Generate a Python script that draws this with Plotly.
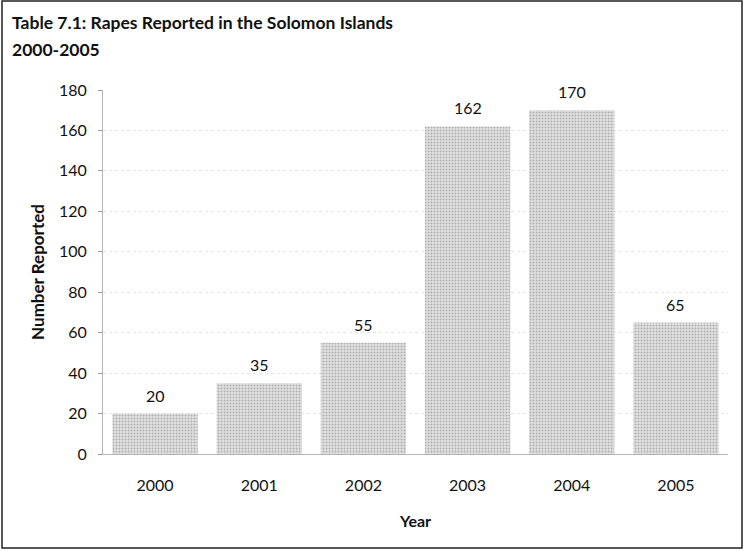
import plotly.graph_objects as go

years = ["2000", "2001", "2002", "2003", "2004", "2005"]
reported = [20, 35, 55, 162, 170, 65]
y_ticks = [0, 20, 40, 60, 80, 100, 120, 140, 160, 180]
title_lines = ["Table 7.1: Rapes Reported in the Solomon Islands", "2000-2005"]

W, H = 745, 552
L, R, T, B = 103, 17, 90, 98
pw = W - L - R
ph = H - T - B
FONT = "Lato"

xpos = list(range(len(years)))

fig = go.Figure()
fig.add_trace(go.Bar(
    x=xpos,
    y=reported,
    marker=dict(
        color="#cfcfcf",
        line=dict(width=0),
        pattern=dict(shape=".", fgcolor="#777777", bgcolor="#e2e2e2",
                     size=3, solidity=0.35),
    ),
    width=0.82,
))

# value labels above each bar
for xp, v in zip(xpos, reported):
    fig.add_annotation(
        x=xp, y=v, text=str(v), showarrow=False,
        yanchor="bottom", yshift=7,
        font=dict(family=FONT, size=16, color="#111111"),
    )

# two-line chart title, top-left
for i, line in enumerate(title_lines):
    fig.add_annotation(
        text=f"<b>{line}</b>",
        xref="paper", yref="paper",
        x=(10 - L) / pw, y=1 + (T - (22 + 28 * i)) / ph,
        xanchor="left", yanchor="middle", align="left", showarrow=False,
        font=dict(family=FONT, size=17.5, color="#111111"),
    )

fig.update_layout(
    width=W, height=H,
    margin=dict(l=L, r=R, t=T, b=B),
    paper_bgcolor="white",
    plot_bgcolor="white",
    showlegend=False,
    font=dict(family=FONT, color="#111111"),
)

fig.update_yaxes(
    range=[0, 180],
    tickvals=y_ticks,
    ticks="outside", ticklen=4, tickcolor="#999999",
    ticklabelstandoff=8,
    tickfont=dict(family=FONT, size=16),
    showgrid=True, gridcolor="#e4e4e4", griddash="dot", gridwidth=1,
    showline=True, linecolor="#b5b5b5", linewidth=1,
    zeroline=False,
    title=dict(text="<b>Number Reported</b>", font=dict(family=FONT, size=17), standoff=10),
)
fig.update_xaxes(
    range=[-0.5, len(years) - 0.5],
    tickvals=xpos, ticktext=years,
    showgrid=False, zeroline=False,
    showline=True, linecolor="#b5b5b5", linewidth=1,
    ticks="",
    ticklabelstandoff=17,
    tickfont=dict(family=FONT, size=16),
    title=dict(text="<b>Year</b>", font=dict(family=FONT, size=16), standoff=22),
)

# outer frame around the chart
fig.add_shape(
    type="rect", xref="paper", yref="paper",
    x0=(2 - L) / pw, x1=(W - 3 - L) / pw,
    y0=-(H - 4 - T - ph) / ph, y1=1 + (T - 1) / ph,
    line=dict(color="#222222", width=1.5),
    layer="above",
)

fig.write_html("out.html")
